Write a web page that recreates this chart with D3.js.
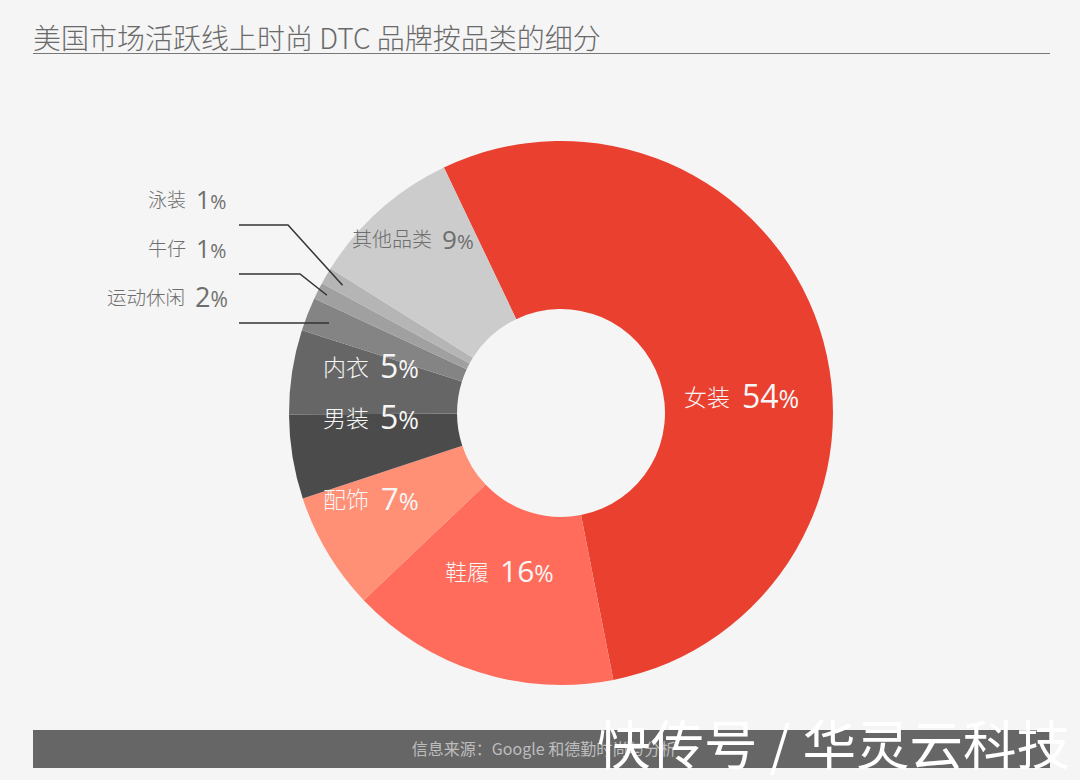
<!DOCTYPE html>
<html>
<head>
<meta charset="utf-8">
<script src="https://cdnjs.cloudflare.com/ajax/libs/d3/7.8.5/d3.min.js"></script>
<style>
    html, body { margin: 0; padding: 0; background: #f5f5f5; }
    text { font-family: "Noto Sans CJK SC", "Open Sans", sans-serif; }
</style>
</head>
<body>
<div id="chart"></div>
<script>
const categories = ["女装", "鞋履", "配饰", "男装", "内衣", "运动休闲", "牛仔", "泳装", "其他品类"];
const shares = [54, 16, 7, 5, 5, 2, 1, 1, 9];
const colors = ["#ea4030", "#ff6c5c", "#ff8f75", "#4b4b4b", "#666666", "#848484", "#a0a0a0", "#b5b5b5", "#cccccc"];

const titleText = "美国市场活跃线上时尚 DTC 品牌按品类的细分";
const sourceText = "信息来源\uFF1AGoogle 和德勤时尚与分析";
const watermarkText = "快传号 / 华灵云科技";

const width = 1080, height = 780;
const cx = 561, cy = 413, outerR = 272, innerR = 104;
const startAngle = -25.5 * Math.PI / 180;

const svg = d3.select("#chart").append("svg")
    .attr("width", width)
    .attr("height", height)
    .style("display", "block");

svg.append("rect").attr("width", width).attr("height", height).attr("fill", "#f5f5f5");

// title + rule
svg.append("text")
    .attr("x", 33).attr("y", 49)
    .attr("font-size", 28)
    .attr("font-weight", 300)
    .attr("fill", "#6a6a6a")
    .text(titleText);

svg.append("line")
    .attr("x1", 33).attr("x2", 1050)
    .attr("y1", 53.5).attr("y2", 53.5)
    .attr("stroke", "#777")
    .attr("stroke-width", 1.2);

// donut
const pie = d3.pie()
    .sort(null)
    .startAngle(startAngle)
    .endAngle(startAngle + 2 * Math.PI);

const arcs = pie(shares);
const arc = d3.arc().innerRadius(innerR).outerRadius(outerR);

const g = svg.append("g").attr("transform", `translate(${cx}, ${cy})`);

g.selectAll("path")
    .data(arcs)
    .enter()
    .append("path")
    .attr("d", arc)
    .attr("fill", (d, i) => colors[i]);

// label placement, keyed by category: x = right end of the name, nx = start of the number, y = baseline
const labelPos = {
    "女装": { x: 730, nx: 742, y: 408, light: true, name: 23, num: 32 },
    "鞋履": { x: 489, nx: 500, y: 582, light: true, name: 22, num: 30 },
    "配饰": { x: 369, nx: 381, y: 510, light: true, name: 23, num: 31 },
    "男装": { x: 369, nx: 380, y: 429, light: true, name: 23, num: 32 },
    "内衣": { x: 369, nx: 380, y: 378, light: true, name: 23, num: 32 },
    "其他品类": { x: 432, nx: 442, y: 249, light: false, name: 20, num: 26 },
    "泳装": { x: 186, nx: 196, y: 209, light: false, name: 19, num: 25 },
    "牛仔": { x: 186, nx: 196, y: 258, light: false, name: 19, num: 25 },
    "运动休闲": { x: 185, nx: 195, y: 307, light: false, name: 19.5, num: 27 }
};

categories.forEach((c, i) => {
    const p = labelPos[c];
    const fill = p.light ? "#f6f6f6" : "#6e6e6e";
    svg.append("text")
        .attr("x", p.x).attr("y", p.y - 2)
        .attr("text-anchor", "end")
        .attr("font-size", p.name)
        .attr("font-weight", 300)
        .attr("fill", fill)
        .text(c);
    const t = svg.append("text")
        .attr("x", p.nx).attr("y", p.y)
        .attr("fill", fill)
        .style("font-family", "'Open Sans', sans-serif");
    t.append("tspan").attr("font-size", p.num).text(shares[i]);
    t.append("tspan").attr("font-size", p.num * 0.78).text("%");
});

// leader lines for the thin slices
const leaders = [
    { name: "泳装", y: 225, elbow: 288, r: 253 },
    { name: "牛仔", y: 274, elbow: 300, r: 262 },
    { name: "运动休闲", y: 323, elbow: null, r: 249 }
];

const leaderLine = d3.line();
leaders.forEach((l) => {
    const a = arcs[categories.indexOf(l.name)];
    const mid = (a.startAngle + a.endAngle) / 2;
    const ex = cx + l.r * Math.sin(mid);
    const ey = cy - l.r * Math.cos(mid);
    const pts = l.elbow === null
        ? [[239, l.y], [ex, l.y]]
        : [[239, l.y], [l.elbow, l.y], [ex, ey]];
    svg.append("path")
        .attr("d", leaderLine(pts))
        .attr("fill", "none")
        .attr("stroke", "#333")
        .attr("stroke-width", 1.5);
});

// source bar
svg.append("rect")
    .attr("x", 33).attr("y", 730)
    .attr("width", 1017).attr("height", 38)
    .attr("fill", "#666666");

svg.append("text")
    .attr("x", 544).attr("y", 755)
    .attr("text-anchor", "middle")
    .attr("font-size", 16)
    .attr("fill", "#bdbdbd")
    .text(sourceText);

// watermark
svg.append("text")
    .attr("x", 597).attr("y", 764.5)
    .attr("font-size", 53.5)
    .attr("fill", "#ffffff")
    .text(watermarkText);
</script>
</body>
</html>
